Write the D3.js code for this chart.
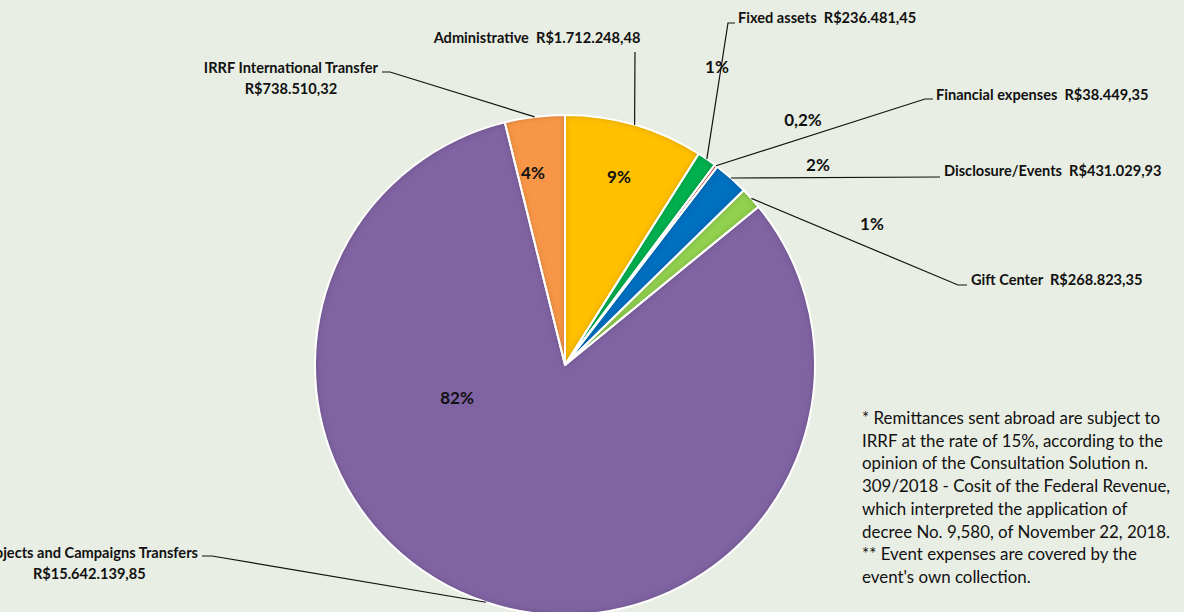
<!DOCTYPE html>
<html>
<head>
  <meta charset="utf-8">
  <script src="https://d3js.org/d3.v7.min.js"></script>
  <style type="text/css">
    body { margin: 0; background: #e9eee4; }
    svg { display: block; font-family: Lato, "Open Sans", sans-serif; }
    .cat { font-size: 14.6px; font-weight: bold; fill: #111; }
    .pct { font-size: 17px; font-weight: bold; fill: #111; }
    .note { font-size: 16.9px; fill: #111; }
  </style>
</head>
<body>
<svg id="chart" width="1184" height="612"></svg>
<script>
  // data, clockwise from 12 o'clock
  const categories = ['Administrative', 'Fixed assets', 'Financial expenses', 'Disclosure/Events',
    'Gift Center', 'Projects and Campaigns Transfers', 'IRRF International Transfer'];
  const amounts = [1712248.48, 236481.45, 38449.35, 431029.93, 268823.35, 15642139.85, 738510.32];
  const colors = ['#ffc000', '#00b050', '#c00000', '#0070c0', '#92d050', '#8064a2', '#f79646'];
  const notes = [
    '* Remittances sent abroad are subject to',
    'IRRF at the rate of 15%, according to the',
    'opinion of the Consultation Solution n.',
    '309/2018 - Cosit of the Federal Revenue,',
    'which interpreted the application of',
    'decree No. 9,580, of November 22, 2018.',
    '** Event expenses are covered by the',
    "event's own collection."
  ];

  // label layout (where Excel put things)
  const layout = [
    { tx: 537, ty: 43, anchor: 'middle', elbow: [635, 52], end: null, px: 619, py: 177, oneLine: true },
    { tx: 738, ty: 23, anchor: 'start', elbow: [728, 23], end: [735, 23], px: 717, py: 67, oneLine: true },
    { tx: 936, ty: 100, anchor: 'start', elbow: [925, 99], end: [933, 99], px: 803, py: 120, oneLine: true },
    { tx: 944, ty: 176, anchor: 'start', elbow: [940, 177], end: null, px: 818, py: 165, oneLine: true },
    { tx: 971, ty: 285, anchor: 'start', elbow: [958, 285], end: [967, 285], px: 872, py: 224, oneLine: true },
    { tx: 198, ty: 558, anchor: 'end', elbow: [212, 556], end: [202, 556], px: 457, py: 398, oneLine: false },
    { tx: 378, ty: 73, anchor: 'end', elbow: [390, 72], end: [382, 72], px: 533, py: 173, oneLine: false }
  ];

  const br = d3.formatLocale({ decimal: ',', thousands: '.', grouping: [3], currency: ['R$', ''] });
  const money = br.format('$,.2f');
  const total = d3.sum(amounts);
  const pctText = v => {
    const p = v / total * 100;
    return (p < 1 ? br.format('.1f')(p) : br.format('.0f')(p)) + '%';
  };

  const svg = d3.select('#chart');
  const cx = 565, cy = 365, R = 250;

  const defs = svg.append('defs');
  const f = defs.append('filter').attr('id', 'inner').attr('x', '-10%').attr('y', '-10%')
    .attr('width', '120%').attr('height', '120%');
  f.append('feFlood').attr('flood-color', '#000').attr('flood-opacity', 0.45).attr('result', 'flood');
  f.append('feComposite').attr('in', 'flood').attr('in2', 'SourceAlpha').attr('operator', 'out').attr('result', 'outside');
  f.append('feGaussianBlur').attr('in', 'outside').attr('stdDeviation', 3).attr('result', 'blur');
  f.append('feComposite').attr('in', 'blur').attr('in2', 'SourceAlpha').attr('operator', 'in').attr('result', 'shadow');
  const fm = f.append('feMerge');
  fm.append('feMergeNode').attr('in', 'SourceGraphic');
  fm.append('feMergeNode').attr('in', 'shadow');

  const pie = d3.pie().sort(null).value(d => d)(amounts);
  const arc = d3.arc().innerRadius(0).outerRadius(R);

  const g = svg.append('g').attr('transform', `translate(${cx},${cy})`);
  g.selectAll('path.fill').data(pie).join('path')
    .attr('class', 'fill')
    .attr('d', arc)
    .attr('fill', (d, i) => colors[i])
    .attr('filter', 'url(#inner)');
  g.selectAll('path.edge').data(pie).join('path')
    .attr('class', 'edge')
    .attr('d', arc)
    .attr('fill', 'none')
    .attr('stroke', '#fff')
    .attr('stroke-width', 2)
    .attr('stroke-linejoin', 'round');

  // leader lines
  pie.forEach((d, i) => {
    const L = layout[i];
    const a = (d.startAngle + d.endAngle) / 2;
    const pts = [[cx + R * Math.sin(a), cy - R * Math.cos(a)], L.elbow];
    if (L.end) pts.push(L.end);
    svg.append('path')
      .attr('d', d3.line()(pts))
      .attr('fill', 'none')
      .attr('stroke', '#111')
      .attr('stroke-width', 1.2);
  });

  // category labels
  pie.forEach((d, i) => {
    const L = layout[i];
    if (L.oneLine) {
      svg.append('text').attr('class', 'cat')
        .attr('x', L.tx).attr('y', L.ty)
        .attr('text-anchor', L.anchor)
        .attr('xml:space', 'preserve')
        .text(categories[i] + '  ' + money(amounts[i]));
    } else {
      const t = svg.append('text').attr('class', 'cat')
        .attr('x', L.tx).attr('y', L.ty)
        .attr('text-anchor', L.anchor)
        .text(categories[i]);
      const w = t.node().getComputedTextLength();
      svg.append('text').attr('class', 'cat')
        .attr('x', L.tx - w / 2).attr('y', L.ty + 21)
        .attr('text-anchor', 'middle')
        .text(money(amounts[i]));
    }
    svg.append('text').attr('class', 'pct')
      .attr('x', L.px).attr('y', L.py)
      .attr('dy', '0.35em')
      .attr('text-anchor', 'middle')
      .text(pctText(amounts[i]));
  });

  // footnote
  svg.append('g').selectAll('text').data(notes).join('text')
    .attr('class', 'note')
    .attr('x', 862)
    .attr('y', (d, i) => 424 + i * 22.7)
    .text(d => d);
</script>
</body>
</html>
